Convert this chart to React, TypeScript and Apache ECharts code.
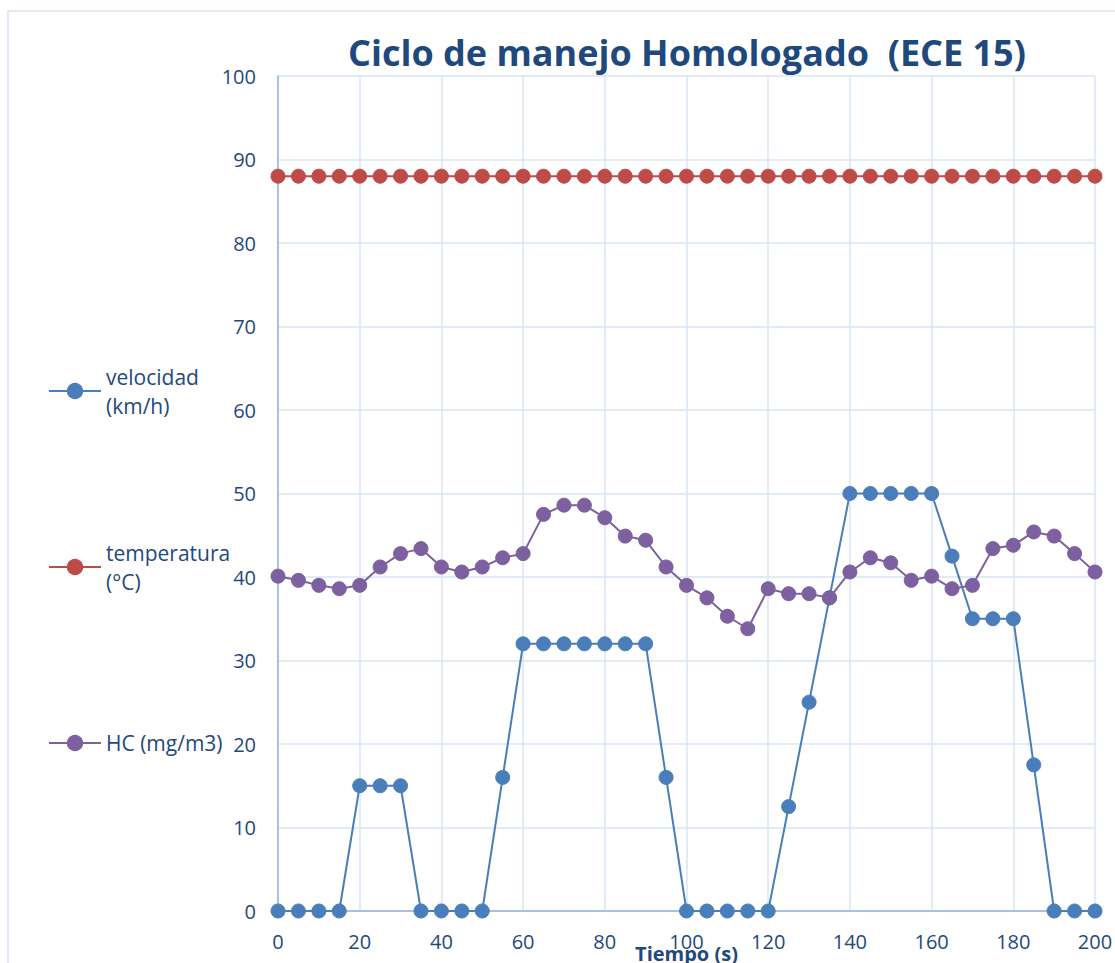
import React, { useEffect, useRef } from "react";
import * as echarts from "echarts";

const tiempo = [0, 5, 10, 15, 20, 25, 30, 35, 40, 45, 50, 55, 60, 65, 70, 75, 80, 85, 90, 95, 100, 105, 110, 115, 120, 125, 130, 135, 140, 145, 150, 155, 160, 165, 170, 175, 180, 185, 190, 195, 200];
const velocidad = [0, 0, 0, 0, 15, 15, 15, 0, 0, 0, 0, 16, 32, 32, 32, 32, 32, 32, 32, 16, 0, 0, 0, 0, 0, 12.5, 25, 37.5, 50, 50, 50, 50, 50, 42.5, 35, 35, 35, 17.5, 0, 0, 0];
const temperatura = [88, 88, 88, 88, 88, 88, 88, 88, 88, 88, 88, 88, 88, 88, 88, 88, 88, 88, 88, 88, 88, 88, 88, 88, 88, 88, 88, 88, 88, 88, 88, 88, 88, 88, 88, 88, 88, 88, 88, 88, 88];
const hc = [40.1, 39.6, 39.0, 38.6, 39.0, 41.2, 42.8, 43.4, 41.2, 40.6, 41.2, 42.3, 42.8, 47.5, 48.6, 48.6, 47.1, 44.9, 44.4, 41.2, 39.0, 37.5, 35.3, 33.8, 38.6, 38.0, 38.0, 37.5, 40.6, 42.3, 41.7, 39.6, 40.1, 38.6, 39.0, 43.4, 43.8, 45.4, 44.9, 42.8, 40.6];

const seriesNames = ["velocidad (km/h)", "temperatura (°C)", "HC (mg/m3)"];
const legendLabels = ["velocidad\n(km/h)", "temperatura\n(°C)", "HC (mg/m3)"];
const titleText = "Ciclo de manejo Homologado  (ECE 15)";
const xAxisName = "Tiempo (s)";

const TEXT_COLOR = "#1F497D";
const COLORS = ["#4A7EBB", "#BE4B48", "#7D60A0"];
const FONT = "'Open Sans', 'Noto Sans', sans-serif";

export default function App() {
  const ref = useRef<HTMLDivElement>(null);
  useEffect(() => {
    if (!ref.current) return;
    const chart = echarts.init(ref.current, undefined, { renderer: "svg" });
    const pts = (vals: number[]) => tiempo.map((t, i) => [t, vals[i]]);
    const mkSeries = (i: number, vals: number[]) => ({
      name: seriesNames[i],
      type: "line",
      data: pts(vals),
      symbol: "circle",
      symbolSize: 14,
      lineStyle: { color: COLORS[i], width: 2 },
      itemStyle: { color: COLORS[i], borderColor: COLORS[i], borderWidth: 1 },
      emphasis: { disabled: true },
      z: 2 + i,
    });
    const LH = 29;
    const legendCenters = [391, 567, 743];
    const legends = seriesNames.map((n, i) => {
      const multi = legendLabels[i].includes("\n");
      return {
        data: [n],
        orient: "vertical",
        left: 48,
        top: multi ? legendCenters[i] - 1.5 * LH : legendCenters[i] - LH / 2,
        padding: 0,
        itemWidth: 52,
        itemHeight: 18,
        formatter: () => legendLabels[i],
        selectedMode: false,
        textStyle: {
          color: TEXT_COLOR,
          fontFamily: FONT,
          fontSize: 21,
          lineHeight: LH,
          padding: multi ? [LH, 0, 0, 0] : 0,
        },
      };
    });
    chart.setOption({
      animation: false,
      backgroundColor: "#ffffff",
      title: {
        text: titleText,
        left: 348,
        top: 34,
        padding: 0,
        textStyle: { color: TEXT_COLOR, fontFamily: FONT, fontWeight: "bold", fontSize: 36 },
      },
      legend: legends,
      graphic: [
        {
          type: "rect",
          shape: { x: 8, y: 11, width: 1200, height: 1000 },
          style: { fill: "none", stroke: "#D9E3F3", lineWidth: 1.5 },
          silent: true,
          z: -10,
        },
      ],
      grid: {
        left: 278,
        right: 20,
        top: 76,
        bottom: 52,
        containLabel: false,
        outerBoundsMode: "none",
      },
      xAxis: {
        type: "value",
        min: 0,
        max: 200,
        interval: 20,
        name: xAxisName,
        nameLocation: "middle",
        nameGap: 32,
        nameMoveOverlap: false,
        nameTextStyle: { color: TEXT_COLOR, fontFamily: FONT, fontWeight: "bold", fontSize: 20 },
        axisLine: { show: true, lineStyle: { color: "#95B3E0", width: 1.5 } },
        axisTick: { show: false },
        axisLabel: { color: TEXT_COLOR, fontFamily: FONT, fontSize: 20, margin: 20 },
        splitLine: { show: true, lineStyle: { color: "#D9E5F6", width: 1.5 } },
      },
      yAxis: {
        type: "value",
        min: 0,
        max: 100,
        interval: 10,
        axisLine: { show: true, lineStyle: { color: "#95B3E0", width: 1.5 } },
        axisTick: { show: false },
        axisLabel: { color: TEXT_COLOR, fontFamily: FONT, fontSize: 20, margin: 22 },
        splitLine: { show: true, lineStyle: { color: "#D9E5F6", width: 1.5 } },
      },
      series: [mkSeries(0, velocidad), mkSeries(1, temperatura), mkSeries(2, hc)],
    });
    return () => chart.dispose();
  }, []);
  return (
    <div
      ref={ref}
      style={{ position: "fixed", left: 0, top: 0, width: 1115, height: 963, background: "#fff" }}
    />
  );
}
